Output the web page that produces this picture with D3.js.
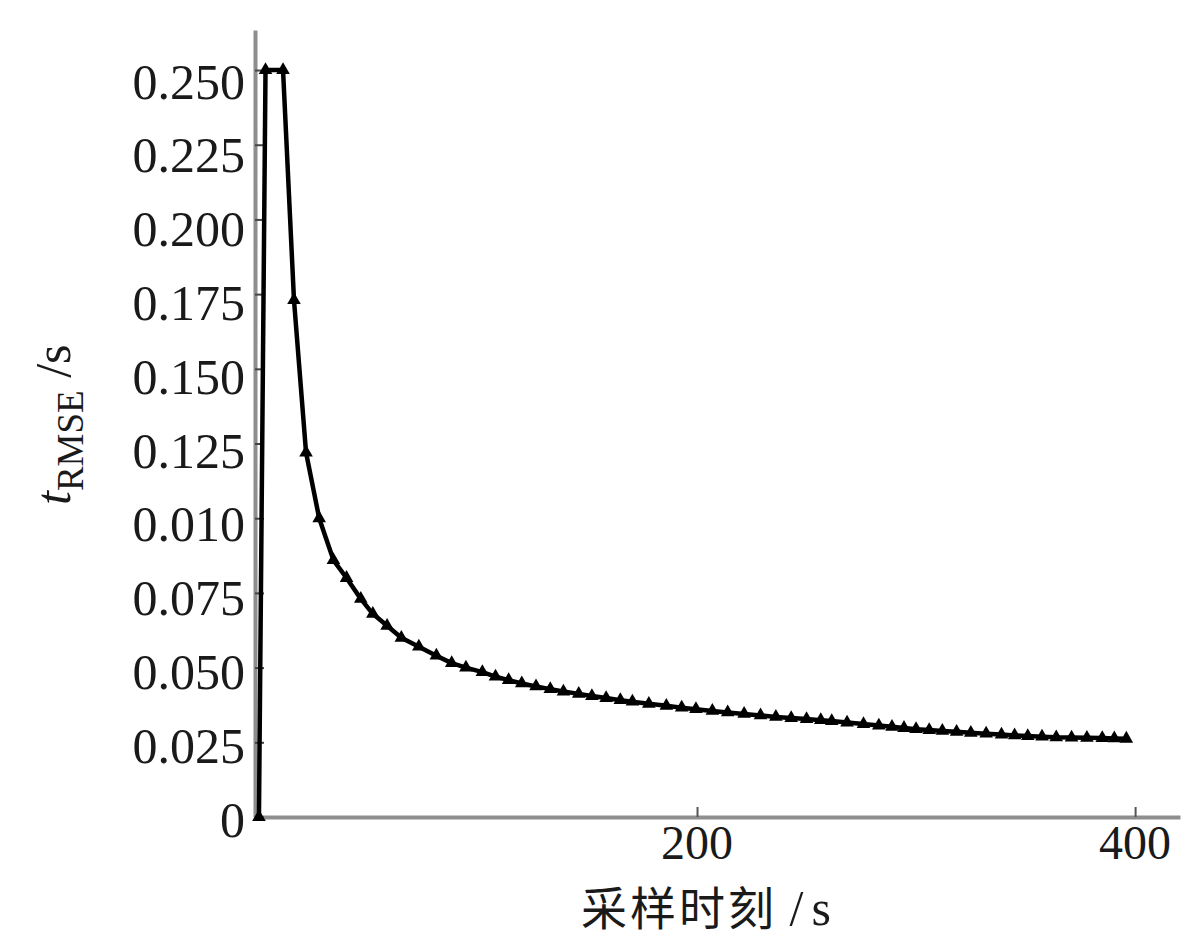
<!DOCTYPE html>
<html>
<head>
<meta charset="utf-8">
<script src="https://cdn.jsdelivr.net/npm/d3@7/dist/d3.min.js"></script>
<style>
  html, body { margin: 0; padding: 0; background: #fff; }
  svg { display: block; }
</style>
</head>
<body>
<svg id="chart" width="1200" height="938"></svg>
<script>
// sampling instants (s)
const times = [0, 3, 11, 16, 21.5, 27.5, 34, 40, 46.5, 52, 58.5, 65, 73, 81, 88,
  94.5, 102, 108, 114, 120, 126.5, 133, 139, 146, 152, 158.5, 165, 170.5, 178, 186,
  193, 199.5, 207, 214, 221.5, 229, 236, 243, 250, 256.5, 261.5, 268.5, 276, 283, 289,
  294.5, 300, 306, 312, 318.5, 325, 332, 339, 345, 351, 357.5, 364, 371, 378, 385,
  390.5, 396];
// t_RMSE (s)
const rmse = [0, 0.250, 0.250, 0.173, 0.122, 0.100, 0.086, 0.080, 0.073, 0.068,
  0.064, 0.060, 0.057, 0.054, 0.0515, 0.050, 0.0485, 0.047, 0.0458, 0.0447,
  0.0437, 0.0428, 0.0420, 0.0412, 0.0405, 0.0398, 0.0391, 0.0386, 0.0379, 0.0372,
  0.0366, 0.0361, 0.0355, 0.0350, 0.0345, 0.0340, 0.0335, 0.0331, 0.0328, 0.0324,
  0.0321, 0.0316, 0.0311, 0.0306, 0.0302, 0.0298, 0.0294, 0.0291, 0.0288, 0.0285,
  0.0282, 0.0279, 0.0276, 0.0273, 0.0271, 0.0269, 0.0267, 0.0266, 0.0265, 0.0264,
  0.0263, 0.0262];
const yTickValues = [0, 0.025, 0.05, 0.075, 0.1, 0.125, 0.15, 0.175, 0.2, 0.225, 0.25];
const yTickLabels = ["0", "0.025", "0.050", "0.075", "0.010", "0.125", "0.150", "0.175", "0.200", "0.225", "0.250"];
const xTickValues = [0, 200, 400];
const xTickLabels = ["", "200", "400"];
const xTitle = "采样时刻";
const xUnitSlash = " /";
const xUnitS = "s";

const data = times.map((t, i) => ({ t, v: rmse[i] }));
const svg = d3.select("#chart");
const serif = "'Liberation Serif', 'Times New Roman', serif";

const x = d3.scaleLinear().domain([-1.8, 420.5]).range([255, 1180]);
const y = d3.scaleLinear().domain([0, 0.2634]).range([817, 30]);
// label placement scale (labels in the original sit slightly lower than ticks)
const yLab = d3.scaleLinear().domain([0, 0.25]).range([819, 81]);

// x axis
const gx = svg.append("g").attr("transform", `translate(0,${y(0)})`)
  .call(d3.axisBottom(x).tickValues(xTickValues).tickSize(-10).tickSizeOuter(0).tickFormat(() => ""));
gx.select(".domain").attr("stroke", "#8e8e8e").attr("stroke-width", 4);
gx.selectAll(".tick line").attr("stroke", "#555").attr("stroke-width", 2);

// y axis
const gy = svg.append("g").attr("transform", `translate(${x(-1.8)},0)`)
  .call(d3.axisLeft(y).tickValues(yTickValues).tickSize(-9).tickSizeOuter(0).tickFormat(() => ""));
gy.select(".domain").attr("stroke", "#8e8e8e").attr("stroke-width", 4);
gy.selectAll(".tick line").attr("stroke", "#444").attr("stroke-width", 2);

// y tick labels
svg.append("g").selectAll("text").data(yTickValues).join("text")
  .attr("x", 245).attr("y", d => yLab(d)).attr("dy", "0.35em")
  .attr("text-anchor", "end")
  .attr("font-family", serif).attr("font-size", 50).attr("fill", "#1a1a1a")
  .text((d, i) => yTickLabels[i]);

// x tick labels
svg.append("g").selectAll("text").data(xTickValues).join("text")
  .attr("x", d => x(d)).attr("y", 859)
  .attr("text-anchor", "middle")
  .attr("font-family", serif).attr("font-size", 48).attr("fill", "#1a1a1a")
  .text((d, i) => xTickLabels[i]);

// curve
const line = d3.line().x(d => x(d.t)).y(d => y(d.v));
svg.append("path").datum(data)
  .attr("d", line).attr("fill", "none")
  .attr("stroke", "#000").attr("stroke-width", 4.5).attr("stroke-linejoin", "round");

// markers
const tri = d3.symbol().type(d3.symbolTriangle).size(80);
svg.append("g").selectAll("path").data(data).join("path")
  .attr("transform", d => `translate(${x(d.t)},${y(d.v)})`)
  .attr("d", tri).attr("fill", "#000");

// x axis title
const xt = svg.append("text").attr("x", 706).attr("y", 925)
  .attr("text-anchor", "middle").attr("fill", "#1a1a1a");
xt.append("tspan").attr("font-family", "'Noto Sans CJK SC'").attr("font-size", 46).attr("letter-spacing", 3).text(xTitle);
xt.append("tspan").attr("font-family", serif).attr("font-size", 50).text(xUnitSlash);
xt.append("tspan").attr("font-family", serif).attr("font-size", 50).attr("dx", 8).text(xUnitS);

// y axis title
const yt = svg.append("text")
  .attr("transform", "translate(70,505) rotate(-90)")
  .attr("text-anchor", "start").attr("fill", "#1a1a1a")
  .attr("font-family", serif);
yt.append("tspan").attr("font-style", "italic").attr("font-size", 50).text("t");
yt.append("tspan").attr("font-size", 37).attr("dy", 13).text("RMSE");
yt.append("tspan").attr("font-size", 50).attr("dy", -13).text(" /s");
</script>
</body>
</html>
